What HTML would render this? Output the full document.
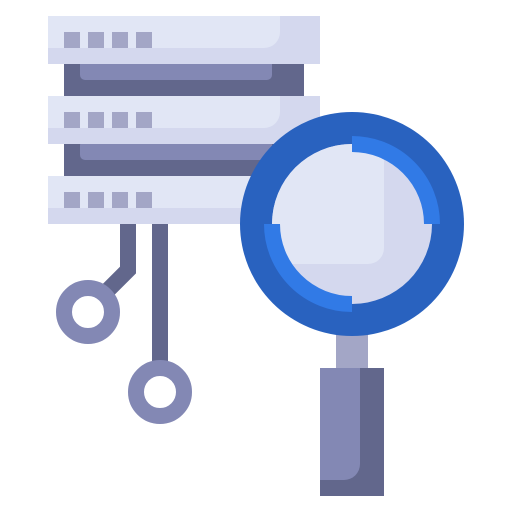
<!DOCTYPE html>
<html><head><style>html,body{margin:0;padding:0;background:#fff}</style></head><body>
<svg width="512" height="512" viewBox="0 0 512 512" xmlns="http://www.w3.org/2000/svg">
<defs><clipPath id="lens"><circle cx="352" cy="224" r="80"/></clipPath></defs>
<!-- dark bands -->
<rect x="64" y="64" width="240" height="32" fill="#62678c"/>
<rect x="80" y="64" width="192" height="16" rx="5" fill="#8388b4"/>
<rect x="80" y="60" width="192" height="10" fill="#8388b4"/>
<rect x="64" y="144" width="240" height="32" fill="#62678c"/>
<rect x="80" y="140" width="192" height="20" rx="5" fill="#8388b4"/>
<!-- cables -->
<path d="M128 224 V270 L96 302" stroke="#62678c" stroke-width="16" fill="none"/>
<rect x="152" y="224" width="16" height="140" fill="#62678c"/>
<circle cx="88" cy="312" r="24" stroke="#8388b4" stroke-width="16" fill="#fff"/>
<circle cx="160" cy="392" r="24" stroke="#8388b4" stroke-width="16" fill="#fff"/>
<!-- bars -->
<g>
<rect x="48" y="16" width="272" height="48" fill="#d4d8ee"/>
<path d="M48 16 H280 V32 A16 16 0 0 1 264 48 H48 Z" fill="#e1e6f5"/>
<rect x="48" y="96" width="272" height="48" fill="#d4d8ee"/>
<path d="M48 96 H280 V112 A16 16 0 0 1 264 128 H48 Z" fill="#e1e6f5"/>
<rect x="48" y="176" width="272" height="48" fill="#d4d8ee"/>
<rect x="48" y="176" width="232" height="32" fill="#e1e6f5"/>
</g>
<g fill="#a3a6c6">
<rect x="64" y="32" width="16" height="16"/><rect x="88" y="32" width="16" height="16"/><rect x="112" y="32" width="16" height="16"/><rect x="136" y="32" width="16" height="16"/>
<rect x="64" y="112" width="16" height="16"/><rect x="88" y="112" width="16" height="16"/><rect x="112" y="112" width="16" height="16"/><rect x="136" y="112" width="16" height="16"/>
<rect x="64" y="192" width="16" height="16"/><rect x="88" y="192" width="16" height="16"/><rect x="112" y="192" width="16" height="16"/><rect x="136" y="192" width="16" height="16"/>
</g>
<!-- handle -->
<rect x="336" y="330" width="32" height="40" fill="#a3a6c6"/>
<rect x="320" y="368" width="64" height="128" fill="#62678c"/>
<path d="M320 368 H360 V464 A16 16 0 0 1 344 480 H320 Z" fill="#8388b4"/>
<!-- magnifier -->
<circle cx="352" cy="224" r="112" fill="#2962bf"/>
<circle cx="352" cy="224" r="80" fill="#d4d8ee"/>
<g clip-path="url(#lens)"><path d="M260 130 H384 V248 A16 16 0 0 1 368 264 H260 Z" fill="#e1e6f5"/></g>
<path d="M352 144 A80 80 0 0 1 432 224" stroke="#317ae6" stroke-width="16" fill="none"/>
<path d="M272 224 A80 80 0 0 0 352 304" stroke="#317ae6" stroke-width="16" fill="none"/>
</svg>
</body></html>
